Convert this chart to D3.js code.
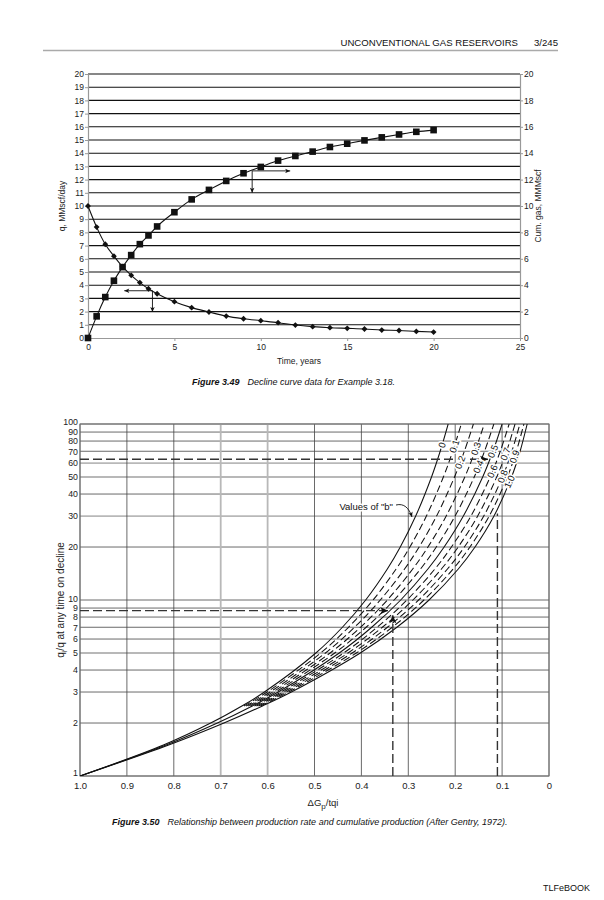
<!DOCTYPE html>
<html><head><meta charset="utf-8">
<script src="https://cdn.jsdelivr.net/npm/d3@7"></script>
<style>
body{margin:0;background:#fff;}
svg{display:block;font-family:"Liberation Sans",Arial,Helvetica,sans-serif;}
</style></head><body>
<svg id="page" width="604" height="900"></svg>
<script>
// ---------- Figure 3.49 data ----------
const years  = [0,0.5,1,1.5,2,2.5,3,3.5,4,5,6,7,8,9,10,11,12,13,14,15,16,17,18,19,20];
const rateQ  = [10,8.4,7.1,6.2,5.4,4.75,4.2,3.73,3.35,2.75,2.3,1.97,1.66,1.46,1.31,1.16,0.98,0.86,0.78,0.73,0.68,0.6,0.57,0.5,0.45];
const cumGp  = [0,1.64,3.1,4.34,5.37,6.28,7.11,7.77,8.45,9.53,10.5,11.22,11.9,12.48,12.96,13.44,13.79,14.12,14.47,14.72,14.97,15.2,15.42,15.62,15.75];
const qTicks    = [0,1,2,3,4,5,6,7,8,9,10,11,12,13,14,15,16,17,18,19,20];
const cumTicks  = [0,2,4,6,8,10,12,14,16,18,20];
const timeTicks = [0,5,10,15,20,25];
const arrowT    = [9.5,3.73];   // start time of read-off arrows
const arrowQ    = [12.66,3.58]; // start value
const arrowTto  = [11.7,2.1];   // horizontal arrow end (time)
const arrowQto  = [11.0,1.97];  // vertical arrow end (value)

// ---------- Figure 3.50 data ----------
const ratioTicks = [1,2,3,4,5,6,7,8,9,10,20,30,40,50,60,70,80,90,100];
const gpTicks    = [1.0,0.9,0.8,0.7,0.6,0.5,0.4,0.3,0.2,0.1,0];
const rRatio     = [1,1.5,2,2.5,3,5,7,10,15,20,30,50,70,100];
const bValues    = [0,0.1,0.2,0.3,0.4,0.5,0.6,0.7,0.8,0.9,1.0];
const gpB00 = [1,0.8221,0.7213,0.6548,0.6068,0.4971,0.4405,0.3909,0.3447,0.3171,0.2842,0.2505,0.2320,0.2150];
const gpB01 = [null,null,null,0.6503,0.6009,0.4868,0.4275,0.3751,0.3260,0.2966,0.2614,0.2252,0.2053,0.1870];
const gpB02 = [null,null,null,0.6458,0.5949,0.4767,0.4147,0.3597,0.3080,0.2769,0.2397,0.2015,0.1805,0.1612];
const gpB03 = [null,null,null,0.6413,0.5890,0.4667,0.4021,0.3447,0.2906,0.2581,0.2192,0.1795,0.1578,0.1380];
const gpB04 = [null,null,null,0.6369,0.5832,0.4569,0.3899,0.3302,0.2740,0.2403,0.2002,0.1594,0.1375,0.1176];
const gpB05 = [1,0.8165,0.7071,0.6325,0.5774,0.4472,0.3780,0.3162,0.2582,0.2236,0.1826,0.1414,0.1195,0.1000];
const gpB06 = [null,null,null,0.6281,0.5716,0.4378,0.3664,0.3029,0.2433,0.2081,0.1665,0.1254,0.1039,0.0850];
const gpB07 = [null,null,null,0.6237,0.5659,0.4285,0.3553,0.2901,0.2294,0.1937,0.1521,0.1114,0.0905,0.0724];
const gpB08 = [null,null,null,0.6194,0.5603,0.4196,0.3445,0.2780,0.2165,0.1805,0.1391,0.0993,0.0792,0.0620];
const gpB09 = [null,null,null,0.6151,0.5548,0.4108,0.3342,0.2666,0.2045,0.1686,0.1275,0.0888,0.0696,0.0535];
const gpB10 = [1,0.8109,0.6931,0.6109,0.5493,0.4024,0.3243,0.2558,0.1934,0.1577,0.1173,0.0798,0.0616,0.0465];
const refRatioH = [63, 8.7];     // horizontal dashed read-off lines (qi/q)
const refGpHEnd = [0.13, 0.343]; // where horizontal arrows end
const refGpV    = [0.11, 0.333]; // vertical dashed read-off lines
const refRatioV = [31, 8.2];     // where vertical lines end

const FONT = "Liberation Sans, Arial, Helvetica, sans-serif";
const svg = d3.select("#page");
const defs = svg.append("defs");
function marker(id, w, h){
  defs.append("marker").attr("id",id).attr("viewBox","0 0 10 10")
    .attr("refX",10).attr("refY",5).attr("markerWidth",w).attr("markerHeight",h)
    .attr("markerUnits","userSpaceOnUse").attr("orient","auto")
    .append("path").attr("d","M0,0.5 L10,5 L0,9.5 L2.5,5 z").attr("fill","#111");
}
marker("arrS",6,5);
marker("arrB",9,8);

// ---------- header ----------
svg.append("text").attr("x",518).attr("y",46).attr("text-anchor","end")
  .attr("font-size",9.6).attr("fill","#111").text("UNCONVENTIONAL GAS RESERVOIRS");
svg.append("text").attr("x",558).attr("y",46).attr("text-anchor","end")
  .attr("font-size",9.6).attr("fill","#111").text("3/245");
svg.append("line").attr("x1",43).attr("x2",558).attr("y1",50.5).attr("y2",50.5)
  .attr("stroke","#aaa").attr("stroke-width",1.6);

// ---------- Figure 3.49 ----------
const xT = d3.scaleLinear().domain([0,25]).range([88,520]);
const yT = d3.scaleLinear().domain([0,20]).range([338,74]);
const gT = svg.append("g");
gT.selectAll("line.grid").data(qTicks.filter(d=>d>0)).join("line")
  .attr("x1",xT(0)).attr("x2",xT(25)).attr("y1",d=>yT(d)).attr("y2",d=>yT(d))
  .attr("stroke","#111").attr("stroke-width",1.1);

function styleAxis(g, fs){
  g.attr("font-family",FONT);
  g.select(".domain").attr("stroke","#999").attr("stroke-width",1.2);
  g.selectAll(".tick line").attr("stroke","#999");
  g.selectAll(".tick text").attr("font-size",fs).attr("fill","#222");
}
styleAxis(gT.append("g").attr("transform",`translate(${xT(0)},0)`)
  .call(d3.axisLeft(yT).tickValues(qTicks).tickSize(3).tickPadding(1).tickSizeOuter(0)), 8.5);
styleAxis(gT.append("g").attr("transform",`translate(${xT(25)},0)`)
  .call(d3.axisRight(yT).tickValues(cumTicks).tickSize(3).tickPadding(1).tickSizeOuter(0)), 8.5);
styleAxis(gT.append("g").attr("transform",`translate(0,${yT(0)})`)
  .call(d3.axisBottom(xT).tickValues(timeTicks).tickSize(3).tickPadding(3).tickSizeOuter(0)), 8.5);

const lineT = d3.line().x((d,i)=>xT(years[i])).y(d=>yT(d)).curve(d3.curveMonotoneX);
gT.append("path").attr("d",lineT(rateQ)).attr("fill","none").attr("stroke","#111").attr("stroke-width",1.1);
gT.append("path").attr("d",lineT(cumGp)).attr("fill","none").attr("stroke","#111").attr("stroke-width",1.1);
gT.selectAll("rect.sq").data(cumGp).join("rect")
  .attr("x",(d,i)=>xT(years[i])-3.3).attr("y",d=>yT(d)-3.3)
  .attr("width",6.6).attr("height",6.6).attr("fill","#111");
gT.selectAll("path.dm").data(rateQ).join("path")
  .attr("d",d3.symbol(d3.symbolSquare,17)())
  .attr("transform",(d,i)=>`translate(${xT(years[i])},${yT(d)}) rotate(45)`)
  .attr("fill","#111");
arrowT.forEach((t,i)=>{
  const x0=xT(t), y0=yT(arrowQ[i]);
  gT.append("line").attr("x1",x0).attr("y1",y0).attr("x2",xT(arrowTto[i])).attr("y2",y0)
    .attr("stroke","#111").attr("stroke-width",0.9).attr("marker-end","url(#arrS)");
  gT.append("line").attr("x1",x0).attr("y1",y0).attr("x2",x0).attr("y2",yT(arrowQto[i]))
    .attr("stroke","#111").attr("stroke-width",0.9).attr("marker-end","url(#arrS)");
});
gT.append("text").attr("transform",`translate(65,${yT(10)}) rotate(-90)`)
  .attr("text-anchor","middle").attr("font-size",8.5).attr("fill","#222").text("q, MMscf/day");
gT.append("text").attr("transform",`translate(541,${yT(10)}) rotate(-90)`)
  .attr("text-anchor","middle").attr("font-size",8.5).attr("fill","#222").text("Cum. gas, MMMscf");
gT.append("text").attr("x",299).attr("y",364).attr("text-anchor","middle")
  .attr("font-size",8.5).attr("fill","#222").text("Time, years");
const cap1 = svg.append("text").attr("x",192).attr("y",385).attr("font-size",9).attr("font-style","italic").attr("fill","#111");
cap1.append("tspan").attr("font-weight","bold").text("Figure 3.49");
cap1.append("tspan").attr("dx",8).text("Decline curve data for Example 3.18.");

// ---------- Figure 3.50 ----------
const xB = d3.scaleLinear().domain([1,0]).range([80,549]);
const yB = d3.scaleLog().domain([1,100]).range([776,424]);
const gB = svg.append("g");
const lightH = [5,30,50,60], lightV = [0.7,0.6];
gB.selectAll("line.h").data(ratioTicks).join("line")
  .attr("x1",xB(1)).attr("x2",xB(0)).attr("y1",d=>yB(d)).attr("y2",d=>yB(d))
  .attr("stroke",d=>lightH.includes(d)?"#b8b8b8":"#444")
  .attr("stroke-width",d=>lightH.includes(d)?1.8:0.8);
gB.selectAll("line.v").data(gpTicks).join("line")
  .attr("x1",d=>xB(d)).attr("x2",d=>xB(d)).attr("y1",yB(1)).attr("y2",yB(100))
  .attr("stroke",d=>lightV.includes(d)?"#b8b8b8":"#444")
  .attr("stroke-width",d=>lightV.includes(d)?1.8:0.8);
gB.append("rect").attr("x",xB(1)).attr("y",yB(100)).attr("width",xB(0)-xB(1)).attr("height",yB(1)-yB(100))
  .attr("fill","none").attr("stroke","#777").attr("stroke-width",1);

const axY = gB.append("g").attr("transform",`translate(${xB(1)},0)`)
  .call(d3.axisLeft(yB).tickValues(ratioTicks).tickFormat(d3.format("d")).tickSize(0).tickPadding(2));
axY.attr("font-family",FONT).select(".domain").remove();
const labelNudge = {1:-3.5, 10:-1.5, 100:-2.5};
axY.selectAll("text").attr("font-size",8.8).attr("fill","#222")
  .attr("dy","0.32em").attr("y",d=>labelNudge[d]||0);
const axX = gB.append("g").attr("transform",`translate(0,${yB(1)})`)
  .call(d3.axisBottom(xB).tickValues(gpTicks).tickFormat(d=>d===0?"0":d.toFixed(1)).tickSize(0).tickPadding(6));
axX.attr("font-family",FONT).select(".domain").remove();
axX.selectAll("text").attr("font-size",9.5).attr("fill","#222");

defs.append("clipPath").attr("id","clipB").append("rect")
  .attr("x",xB(1)).attr("y",yB(100)).attr("width",xB(0)-xB(1)).attr("height",yB(1)-yB(100));
const curves = [gpB00,gpB01,gpB02,gpB03,gpB04,gpB05,gpB06,gpB07,gpB08,gpB09,gpB10];
const solidB = [0,0.5,1.0];
const lineB = d3.line().defined(d=>d[1]!=null).x(d=>xB(d[1])).y(d=>yB(d[0])).curve(d3.curveCatmullRom.alpha(0.5));
const gc = gB.append("g").attr("clip-path","url(#clipB)");
curves.forEach((arr,i)=>{
  const pts = rRatio.map((r,j)=>[r,arr[j]]);
  gc.append("path").attr("d",lineB(pts)).attr("fill","none").attr("stroke","#111")
    .attr("stroke-width",1.05)
    .attr("stroke-dasharray",solidB.includes(bValues[i])?null:"7,3.5");
});

// reference read-off lines
refRatioH.forEach((r,i)=>{
  gB.append("line").attr("x1",xB(1)).attr("x2",xB(refGpHEnd[i])).attr("y1",yB(r)).attr("y2",yB(r))
    .attr("stroke","#333").attr("stroke-width",1.4).attr("stroke-dasharray","9,4").attr("marker-end","url(#arrB)");
});
refGpV.forEach((g,i)=>{
  gB.append("line").attr("x1",xB(g)).attr("x2",xB(g)).attr("y1",yB(1)).attr("y2",yB(refRatioV[i]))
    .attr("stroke","#333").attr("stroke-width",1.4).attr("stroke-dasharray","9,4")
    .attr("marker-end",i===1?"url(#arrB)":null);
});

// curve labels (b values), placed on each curve
function gpAt(arr, r){
  for(let j=0;j<rRatio.length-1;j++){
    if(r>=rRatio[j] && r<=rRatio[j+1] && arr[j]!=null){
      const t=(Math.log(r)-Math.log(rRatio[j]))/(Math.log(rRatio[j+1])-Math.log(rRatio[j]));
      return {g:arr[j]+(arr[j+1]-arr[j])*t, j};
    }
  }
  return null;
}
curves.forEach((arr,i)=>{
  const b=bValues[i];
  const high = [0,0.1,0.3,0.5,0.7,0.9].includes(b);
  const r = high ? 76-12*b : 64-17*b;
  const p = gpAt(arr,r);
  const x=xB(p.g), y=yB(r);
  const dx=xB(arr[p.j+1])-xB(arr[p.j]), dy=yB(rRatio[p.j+1])-yB(rRatio[p.j]);
  const ang=Math.atan2(dy,dx)*180/Math.PI;
  gB.append("text").attr("transform",`translate(${x},${y}) rotate(${ang})`)
    .attr("text-anchor","middle").attr("dy","0.35em").attr("font-size",9.5)
    .attr("fill","#111").attr("stroke","#fff").attr("stroke-width",3).attr("paint-order","stroke")
    .text(b===1?"1.0":String(b));
});

// "Values of b" annotation
gB.append("text").attr("x",393).attr("y",510).attr("text-anchor","end").attr("font-size",9.5)
  .attr("fill","#111").attr("stroke","#fff").attr("stroke-width",3).attr("paint-order","stroke")
  .text('Values of "b"');
gB.append("path").attr("d","M396,505 C404,503 409,508 412,517").attr("fill","none")
  .attr("stroke","#111").attr("stroke-width",0.9).attr("marker-end","url(#arrS)");

// axis titles
const yl = gB.append("text").attr("transform",`translate(64,600) rotate(-90)`).attr("text-anchor","middle")
  .attr("font-size",10).attr("fill","#222");
yl.append("tspan").text("q");
yl.append("tspan").attr("font-size",7).attr("dy",2.5).text("i");
yl.append("tspan").attr("dy",-2.5).text("/q at any time on decline");
const xl = gB.append("text").attr("x",323).attr("y",806).attr("text-anchor","middle")
  .attr("font-size",9.5).attr("fill","#222");
xl.append("tspan").text("\u0394G");
xl.append("tspan").attr("font-size",8).attr("dy",2.5).text("p");
xl.append("tspan").attr("dy",-2.5).text("/tqi");
const cap2 = svg.append("text").attr("x",112).attr("y",825).attr("font-size",9).attr("font-style","italic").attr("fill","#111");
cap2.append("tspan").attr("font-weight","bold").text("Figure 3.50");
cap2.append("tspan").attr("dx",8).text("Relationship between production rate and cumulative production (After Gentry, 1972).");

svg.append("text").attr("x",590).attr("y",891).attr("text-anchor","end").attr("font-size",9)
  .attr("fill","#111").text("TLFeBOOK");
</script>
</body></html>
